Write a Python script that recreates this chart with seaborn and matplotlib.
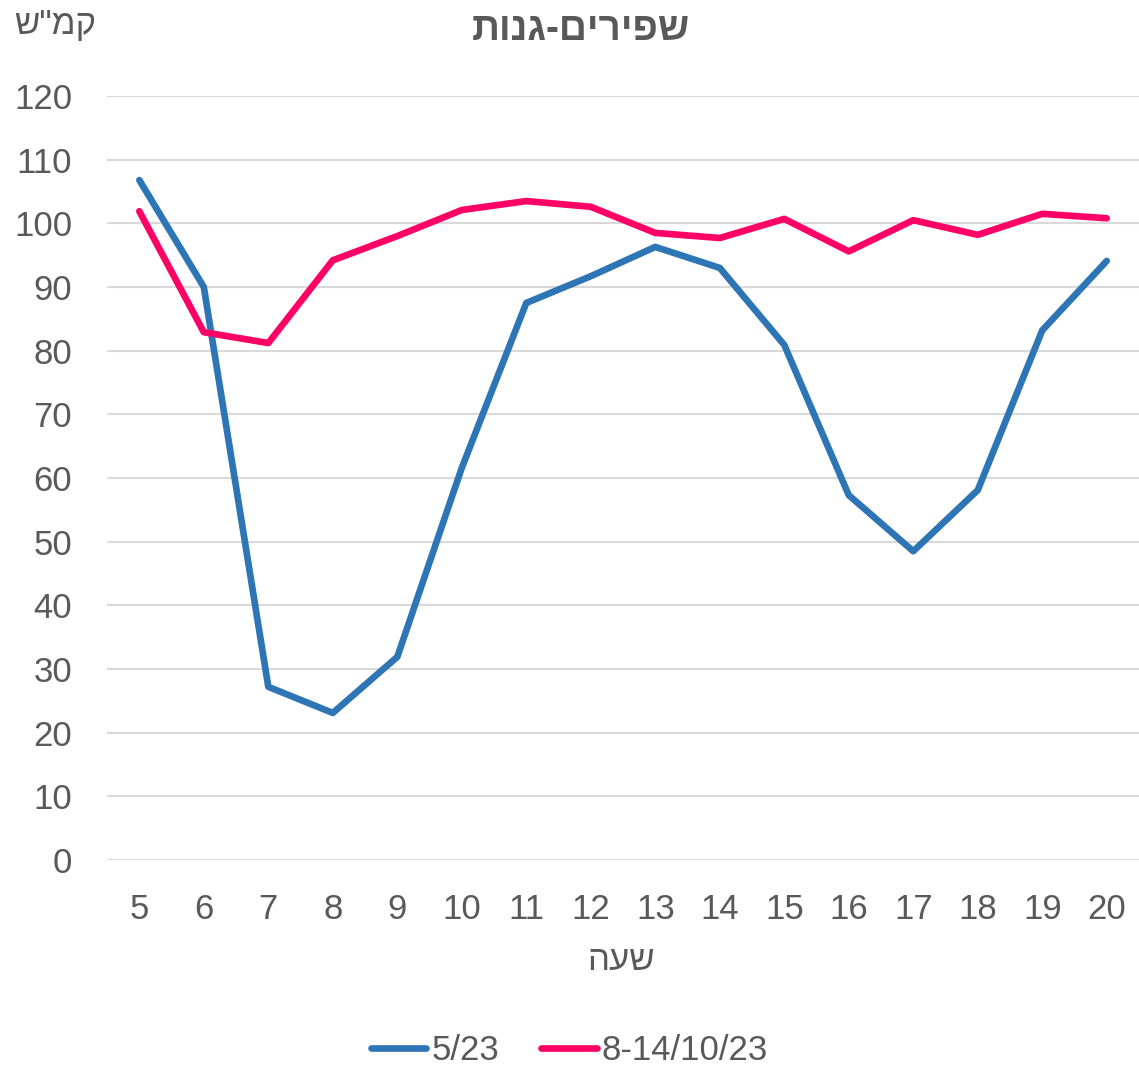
import matplotlib
matplotlib.use("Agg")
import matplotlib.pyplot as plt
import seaborn as sns
import pandas as pd

# hebrew strings are given in visual order (matplotlib has no bidi)
title = "שפירים-גנות"[::-1]
y_label = 'קמ"ש'[::-1]
x_label = "שעה"[::-1]

hours = [str(h) for h in range(5, 21)]
speed_5_23 = [106.8, 90.0, 27.2, 23.1, 31.9, 61.6, 87.5, 91.7, 96.3, 93.0, 80.9, 57.3, 48.5, 58.1, 83.2, 94.1]
speed_oct = [101.9, 82.9, 81.2, 94.2, 98.0, 102.1, 103.5, 102.6, 98.5, 97.7, 100.7, 95.6, 100.5, 98.2, 101.5, 100.8]
series_names = ["5/23", "8-14/10/23"]
my_palette = ["#2E75B6", "#FF0066"]

df = pd.concat([
    pd.DataFrame({"hour": hours, "speed": speed_5_23, "series": series_names[0]}),
    pd.DataFrame({"hour": hours, "speed": speed_oct, "series": series_names[1]}),
])

sns.set_theme(style="white")
plt.rcParams["font.family"] = ["Liberation Sans", "DejaVu Sans"]
text_color = "#595959"
font_size = 25
line_w = 4.8

fig = plt.figure(figsize=(11.39, 10.67), dpi=100)
ax = fig.add_axes([0.094, 0.194, 0.906, 0.716])

sns.lineplot(data=df, x="hour", y="speed", hue="series", hue_order=series_names,
             palette=my_palette, linewidth=line_w, ax=ax, sort=False)

ax.set_ylim(0, 120)
ax.set_yticks(range(0, 121, 10))
ax.set_xlim(-0.5, len(hours) - 0.5)
ax.grid(axis="y", color="#D9D9D9", linewidth=1.5)
ax.set_axisbelow(True)
for s in ax.spines.values():
    s.set_visible(False)
ax.tick_params(axis="both", length=0, labelsize=font_size, colors=text_color)
ax.tick_params(axis="y", pad=25)
ax.tick_params(axis="x", pad=24)
ax.set_xlabel("")
ax.set_ylabel("")

fig.text(0.51, 0.972, title, ha="center", va="center", fontsize=28,
         fontweight="bold", color=text_color)
fig.text(0.048, 0.977, y_label, ha="center", va="center", fontsize=font_size, color=text_color)
fig.text(0.545, 0.1, x_label, ha="center", va="center", fontsize=font_size, color=text_color)

handles, labels = ax.get_legend_handles_labels()
ax.get_legend().remove()
leg = fig.legend(handles, labels, loc="center", bbox_to_anchor=(0.5, 0.015), ncol=2,
                 frameon=False, fontsize=font_size, handlelength=1.6, handletextpad=0.15,
                 columnspacing=1.2)
for t in leg.get_texts():
    t.set_color(text_color)
for h in leg.get_lines():
    h.set_linewidth(line_w)
    h.set_solid_capstyle("round")

fig.savefig("out.png", dpi=100)
